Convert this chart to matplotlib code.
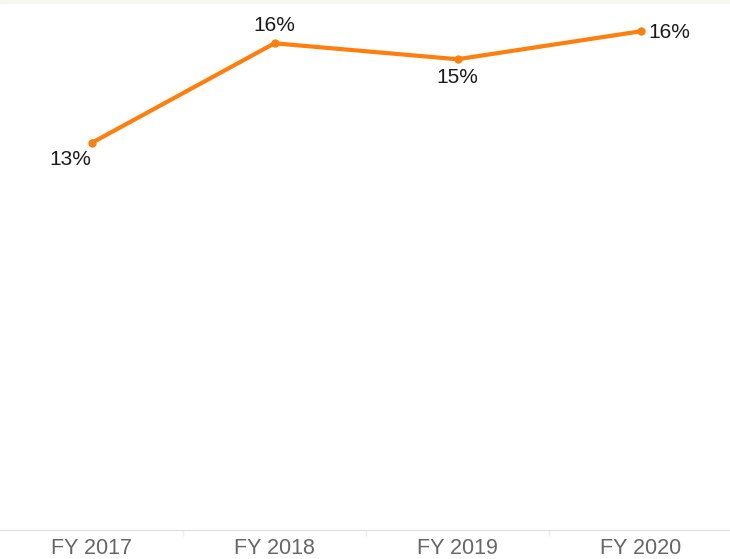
import matplotlib.pyplot as plt
import numpy as np

years = ['FY 2017', 'FY 2018', 'FY 2019', 'FY 2020']
margin = [13.3, 15.8, 15.4, 16.1]
labels = ['13%', '16%', '15%', '16%']

plt.rcParams['font.family'] = ['Liberation Sans', 'DejaVu Sans']

fig = plt.figure(figsize=(7.3, 5.59), dpi=100)
# thin light strip at the very top
fig.patches.append(plt.Rectangle((0, 0.9946), 1, 0.0054, transform=fig.transFigure,
                                 color='#f6f8f0', zorder=0))
ax = fig.add_axes([0, 29 / 559, 732 / 730, 527 / 559])

x = np.arange(len(years))
ax.plot(x, margin, color='#ff7f0e', lw=3, marker='o', ms=5, solid_capstyle='round')

# offsets in points (1 pt = 1.39 px here)
offsets = [(-15, -11.5), (0, 13), (0, -13), (6, -0.5)]
aligns = ['center', 'center', 'center', 'left']
for xi, v, lab, off, al in zip(x, margin, labels, offsets, aligns):
    ax.annotate(lab, (xi, v), xytext=off, textcoords='offset points',
                ha=al, va='center', fontsize=15, color='#1a1a1a')

ax.set_xlim(-0.5, 3.5)
ax.set_ylim(3.6, 16.81)
ax.set_yticks([])
ax.set_xticks(x)
ax.set_xticklabels(years, fontsize=15.5, color='#666666')
ax.set_xticks([0.5, 1.5, 2.5], minor=True)
ax.tick_params(axis='x', which='major', length=0, pad=6)
ax.tick_params(axis='x', which='minor', length=4, color='#eeeeee', width=1, direction='out')
for s in ['top', 'left', 'right']:
    ax.spines[s].set_visible(False)
ax.spines['bottom'].set_color('#dddddd')
ax.spines['bottom'].set_linestyle((0, (2, 1)))

fig.savefig('out.png', dpi=100)
